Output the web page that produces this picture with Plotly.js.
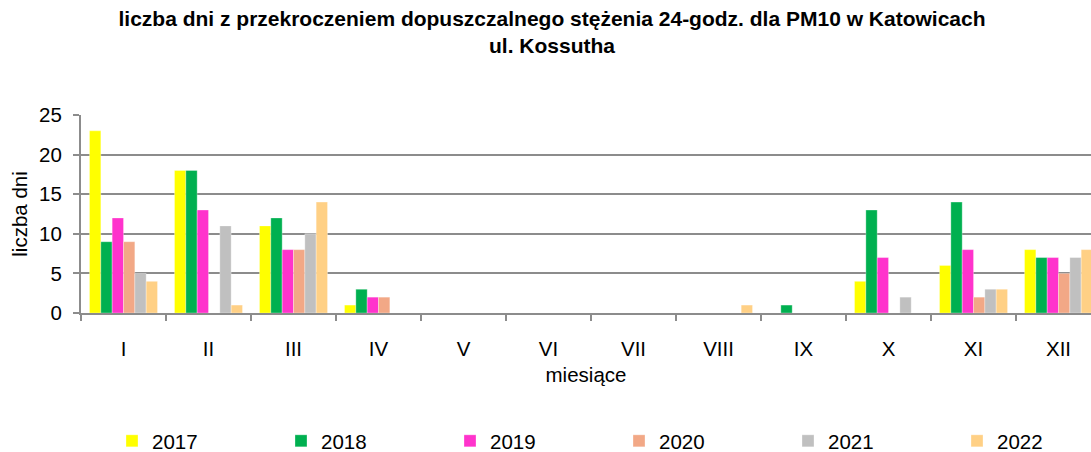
<!DOCTYPE html>
<html>
<head>
<meta charset="utf-8">
<script src="https://cdn.plot.ly/plotly-3.0.1.min.js"></script>
<style>html,body{margin:0;padding:0;background:#fff;}#chart{width:1091px;height:452px;}</style>
</head>
<body>
<div id="chart"></div>
<script>
const months = ["I","II","III","IV","V","VI","VII","VIII","IX","X","XI","XII"];
const years = ["2017","2018","2019","2020","2021","2022"];
const v2017 = [23,18,11,1,0,0,0,0,0,4,6,8];
const v2018 = [9,18,12,3,0,0,0,0,1,13,14,7];
const v2019 = [12,13,8,2,0,0,0,0,0,7,8,7];
const v2020 = [9,0,8,2,0,0,0,0,0,0,2,5];
const v2021 = [5,11,10,0,0,0,0,0,0,2,3,7];
const v2022 = [4,1,14,0,0,0,0,1,0,0,3,8];
const colors = ["#FFFF00","#00B050","#FF33CC","#F2A886","#C0C0C0","#FFD085"];
const series = [v2017,v2018,v2019,v2020,v2021,v2022];

const font = "Liberation Sans, Arial, sans-serif";
const fs = 20.5;
const traces = series.map((vals,i)=>({
  type:"bar", x:months, y:vals, name:years[i],
  marker:{color:colors[i], line:{color:"rgba(255,255,255,0.6)", width:0.5}}
}));

const layout = {
  width:1091, height:452,
  margin:{l:81, r:0, t:115, b:139},
  paper_bgcolor:"#fff", plot_bgcolor:"#fff",
  font:{family:font, size:fs, color:"#000"},
  barmode:"group", bargap:0.2, bargroupgap:0,
  title:{text:"<b>liczba dni z przekroczeniem dopuszczalnego stężenia 24-godz. dla PM10 w Katowicach<br>ul. Kossutha</b>",
    font:{family:font, size:21, color:"#000"}, x:552/1091, xanchor:"center", xref:"container",
    y:1-26/452, yanchor:"middle", yref:"container"},
  xaxis:{type:"category", range:[-0.5, 11.382], showgrid:false, showline:true, linecolor:"#8c8c8c", linewidth:2,
    ticks:"outside", tickson:"boundaries", ticklen:6, tickwidth:2, tickcolor:"#8c8c8c",
    ticklabelstandoff:16, tickfont:{size:fs},
    title:{text:"miesiące", font:{size:fs}, standoff:9}, fixedrange:true},
  yaxis:{range:[0,25], tickvals:[0,5,10,15,20,25], showgrid:true, gridcolor:"#8c8c8c", gridwidth:2,
    showline:true, linecolor:"#8c8c8c", linewidth:2, zeroline:false,
    ticks:"outside", ticklen:6, tickwidth:2, tickcolor:"#8c8c8c", ticklabelstandoff:7,
    tickfont:{size:fs}, title:{text:"liczba dni", font:{size:fs}, standoff:6}, fixedrange:true},
  showlegend:true,
  legend:{orientation:"h", xref:"container", yref:"container", x:112/1091, xanchor:"left",
    y:1-441/452, yanchor:"middle", entrywidth:124, entrywidthmode:"pixels",
    font:{size:fs}, itemwidth:30, traceorder:"normal"}
};
Plotly.newPlot("chart", traces, layout, {displayModeBar:false, staticPlot:true});
</script>
</body>
</html>
